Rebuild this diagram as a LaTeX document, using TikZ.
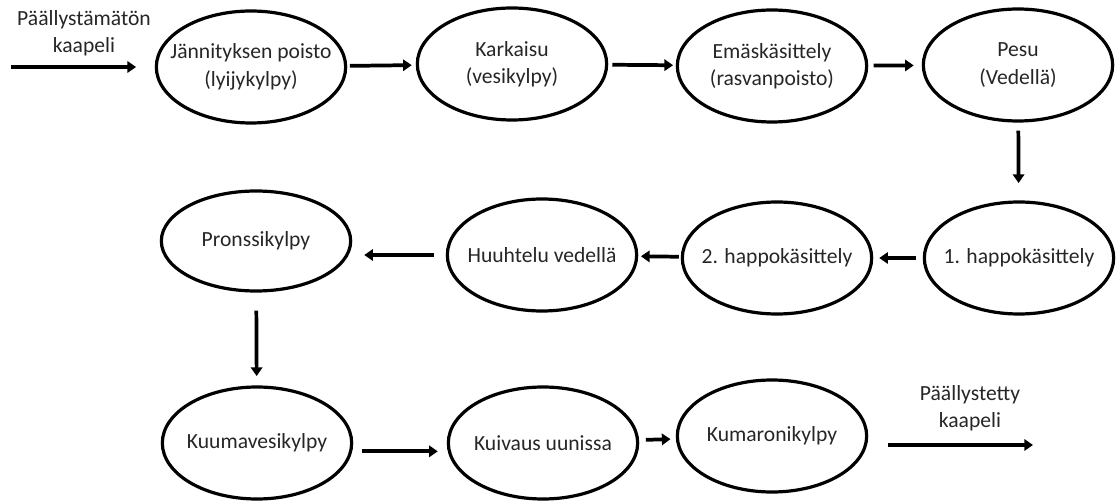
\documentclass[tikz,border=0pt]{standalone}
\usepackage{fontspec}
\setmainfont{Carlito}
\usetikzlibrary{shapes.geometric,arrows.meta}

\begin{document}
\begin{tikzpicture}[x=0.75pt,y=-0.75pt,
    every node/.append style={font=\fontsize{16.2}{20.5}\selectfont,text=black!85},
    stepbox/.style={ellipse,draw,line width=2.4pt,minimum width=142pt,
      minimum height=84pt,inner xsep=-15pt,inner ysep=0pt,align=center},
    flow/.style={line width=2.8pt,-{Triangle[length=6.5pt,width=8.5pt]}}]
      \useasboundingbox (0,0) rectangle (1117,502);
      \draw
        (251,67) node[stepbox] (0){Jännityksen poisto\\(lyijykylpy)}
        (512,64) node[stepbox] (1){Karkaisu\\(vesikylpy)}
        (772,66) node[stepbox] (2){Emäskäsittely\\(rasvanpoisto)}
        (1018,65) node[stepbox] (3){Pesu\\(Vedellä)}
        (1019,258) node[stepbox] (4){1. happokäsittely}
        (777,258) node[stepbox] (5){2. happokäsittely}
        (542,255) node[stepbox] (6){Huuhtelu vedellä}
        (256,241) node[stepbox,minimum height=75pt] (7){Pronssikylpy}
        (257,443) node[stepbox] (8){Kuumavesikylpy}
        (543,443) node[stepbox] (9){Kuivaus uunissa}
        (772,436) node[stepbox] (10){Kumaronikylpy}
        (84,33) node[align=center] (a){Päällystämätön\\kaapeli}
        (970,408) node[align=center] (b){Päällystetty\\kaapeli};
      \coordinate (s) at (11,67);
      \coordinate (t) at (1033,445);
      \coordinate (s0) at (0.west |- s);
      \coordinate (p7) at (7.east |- 6.west);
      \coordinate (k10) at (10.east |- t);
      \begin{scope}[flow]
        \draw[shorten >=14pt] (s) -- (s0);
        \draw[shorten <=2pt,shorten >=3pt] (0) to (1);
        \draw[shorten <=3pt,shorten >=2pt] (1) to (2);
        \draw[shorten <=4pt,shorten >=6pt] (2) to (3);
        \draw[shorten <=6pt,shorten >=13pt] (3) to (4);
        \draw[shorten <=5pt,shorten >=4.5pt] (4) to (5);
        \draw[shorten <=1.5pt,shorten >=2pt] (5) to (6);
        \draw[shorten <=9pt,shorten >=9pt] (6.west) -- (p7);
        \draw[shorten <=13.5pt,shorten >=7pt] (7) to (8);
        \draw[shorten <=7.5pt,shorten >=7.5pt] (8.-5) to (9.185);
        \draw[shorten <=5pt,shorten >=4pt] (9) to (10);
        \draw[shorten <=15pt] (k10) -- (t);
      \end{scope}
    \end{tikzpicture}
\end{document}
